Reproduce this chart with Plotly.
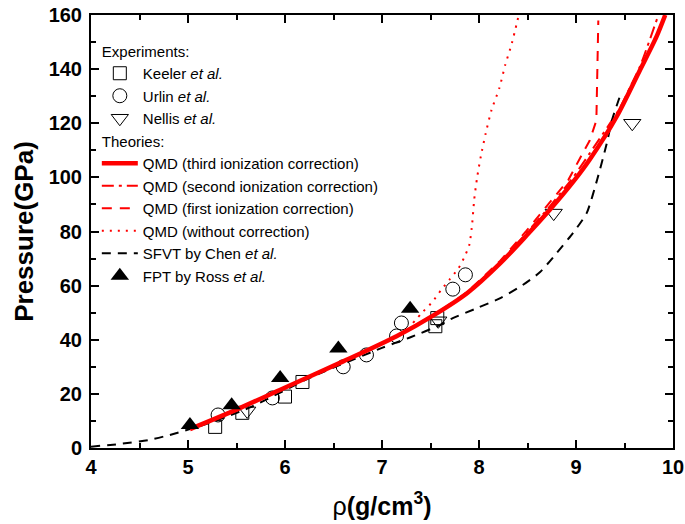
import plotly.graph_objects as go

# Experiments
keeler_rho = [5.28, 5.56, 6.00, 6.18, 7.55, 7.57]
keeler_p = [7.8, 13.0, 19.0, 24.4, 45.0, 48.0]

urlin_rho = [5.31, 5.87, 6.60, 6.84, 7.15, 7.20, 7.73, 7.86]
urlin_p = [12.2, 18.5, 30.0, 34.4, 41.4, 46.2, 58.7, 64.0]

nellis_rho = [5.61, 7.58, 8.77, 9.58]
nellis_p = [13.7, 47.0, 86.8, 120.0]

ross_rho = [5.02, 5.45, 5.95, 6.55, 7.29]
ross_p = [8.5, 15.8, 25.9, 36.8, 51.5]

# Theories
qmd3_rho = [5.02, 5.5, 5.98, 6.6, 7.15, 7.53, 7.88, 8.22, 8.49, 8.73, 8.97, 9.14, 9.42, 9.66, 9.83, 9.92]
qmd3_p = [7.0, 14.2, 22.0, 32.0, 41.3, 49.0, 57.3, 68.3, 78.5, 88.0, 98.3, 106.5, 122.5, 139.7, 152.0, 160.0]

qmd2_rho = [7.15, 7.53, 7.88, 8.22, 8.49, 8.73, 8.97, 9.2, 9.45, 9.56, 9.66, 9.84]
qmd2_p = [41.3, 49.0, 57.5, 68.8, 79.5, 89.3, 100.0, 112.0, 125.5, 133.5, 141.0, 159.0]

qmd1_rho = [7.15, 7.53, 7.88, 8.22, 8.49, 8.73, 8.92, 9.04, 9.14, 9.21, 9.22, 9.23]
qmd1_p = [41.3, 49.0, 57.7, 69.2, 80.3, 90.5, 99.0, 107.0, 113.5, 121.0, 137.0, 158.0]

qmd0_rho = [7.32, 7.41, 7.52, 7.61, 7.70, 7.79, 7.85, 7.90, 7.93, 7.95, 7.98, 8.02, 8.07, 8.13, 8.21, 8.27, 8.34, 8.41]
qmd0_p = [46.2, 49.9, 54.0, 58.4, 62.4, 66.5, 70.6, 75.0, 83.0, 91.6, 99.8, 108.0, 116.4, 125.0, 133.0, 141.5, 149.7, 160.0]

sfvt_rho = [4.0, 4.3, 4.6, 4.81, 5.2, 5.64, 6.26, 7.0, 7.3, 7.6, 7.73, 7.98, 8.22, 8.45, 8.63, 8.8, 8.97, 9.11, 9.22, 9.32, 9.37, 9.45]
sfvt_p = [0.5, 1.5, 3.0, 4.8, 9.0, 15.0, 26.0, 37.0, 41.0, 45.5, 48.0, 51.7, 55.4, 60.2, 65.0, 72.0, 79.5, 86.8, 99.4, 113.0, 121.0, 129.7]

fig = go.Figure()

FONT = "Liberation Sans, Arial"
mline = dict(color="black", width=1)

fig.add_trace(go.Scatter(x=keeler_rho, y=keeler_p, mode="markers", name="Keeler <i>et al.</i>",
                         marker=dict(symbol="square-open", size=13, color="black", line=mline),
                         legendgroup="exp", legendgrouptitle=dict(text="Experiments:"), legendrank=1))
fig.add_trace(go.Scatter(x=urlin_rho, y=urlin_p, mode="markers", name="Urlin <i>et al.</i>",
                         marker=dict(symbol="circle-open", size=14, color="black", line=mline),
                         legendgroup="exp", legendrank=2))
fig.add_trace(go.Scatter(x=nellis_rho, y=nellis_p, mode="markers", name="Nellis <i>et al.</i>",
                         marker=dict(symbol="triangle-down-open", size=15, color="black", line=mline),
                         legendgroup="exp", legendrank=3))

fig.add_trace(go.Scatter(x=qmd0_rho, y=qmd0_p, mode="lines", name="QMD (without correction)",
                         line=dict(color="red", width=2, dash="2px,6px", shape="spline", smoothing=0.6),
                         legendgroup="th", legendrank=7))
fig.add_trace(go.Scatter(x=qmd1_rho, y=qmd1_p, mode="lines", name="QMD (first ionization correction)",
                         line=dict(color="red", width=2, dash="10px,8px", shape="linear"),
                         legendgroup="th", legendrank=6))
fig.add_trace(go.Scatter(x=qmd2_rho, y=qmd2_p, mode="lines", name="QMD (second ionization correction)",
                         line=dict(color="red", width=2, dash="12px,5px,3px,5px", shape="spline", smoothing=0.6),
                         legendgroup="th", legendrank=5))
fig.add_trace(go.Scatter(x=sfvt_rho, y=sfvt_p, mode="lines", name="SFVT by Chen <i>et al.</i>",
                         line=dict(color="black", width=2, dash="9px,7px", shape="spline", smoothing=0.6),
                         legendgroup="th", legendrank=8))
fig.add_trace(go.Scatter(x=qmd3_rho, y=qmd3_p, mode="lines", name="QMD (third ionization correction)",
                         line=dict(color="red", width=4.5, shape="spline", smoothing=0.8),
                         legendgroup="th", legendgrouptitle=dict(text="Theories:"), legendrank=4))
fig.add_trace(go.Scatter(x=ross_rho, y=ross_p, mode="markers", name="FPT by Ross <i>et al.</i>",
                         marker=dict(symbol="triangle-up", size=16, color="black"),
                         legendgroup="th", legendrank=9))

axis_common = dict(
    showline=True, linecolor="black", linewidth=2, mirror="allticks",
    ticks="inside", ticklen=8, tickwidth=1.5, tickcolor="black",
    showgrid=False, zeroline=False, automargin=False,
    tickfont=dict(family=FONT, size=20, color="black", weight="bold"),
)

fig.update_xaxes(range=[4, 10], dtick=1, tick0=4,
                 minor=dict(dtick=0.5, ticks="inside", ticklen=5, tickcolor="black", tickwidth=1.5),
                 title=dict(text="ρ<b>(g/cm<sup>3</sup>)</b>", standoff=20,
                            font=dict(family=FONT, size=25, color="black")),
                 **axis_common)
fig.update_yaxes(range=[0, 160], dtick=20, tick0=0, ticklabelstandoff=3,
                 minor=dict(dtick=10, ticks="inside", ticklen=5, tickcolor="black", tickwidth=1.5),
                 title=dict(text="<b>Pressure(GPa)</b>", standoff=8,
                            font=dict(family=FONT, size=26, color="black")),
                 **axis_common)

fig.update_layout(
    width=685, height=524,
    margin=dict(l=91, r=12, t=15, b=76),
    paper_bgcolor="white", plot_bgcolor="white",
    legend=dict(x=0.01, y=0.955, xanchor="left", yanchor="top",
                bgcolor="rgba(0,0,0,0)", borderwidth=0,
                traceorder="grouped", tracegroupgap=0,
                font=dict(family=FONT, size=15, color="black"),
                grouptitlefont=dict(family=FONT, size=15, color="black"),
                itemwidth=36),
    font=dict(family=FONT, color="black"),
)

fig.write_html("out.html", config={"displayModeBar": False},
               post_script="document.body.style.margin='0';")
